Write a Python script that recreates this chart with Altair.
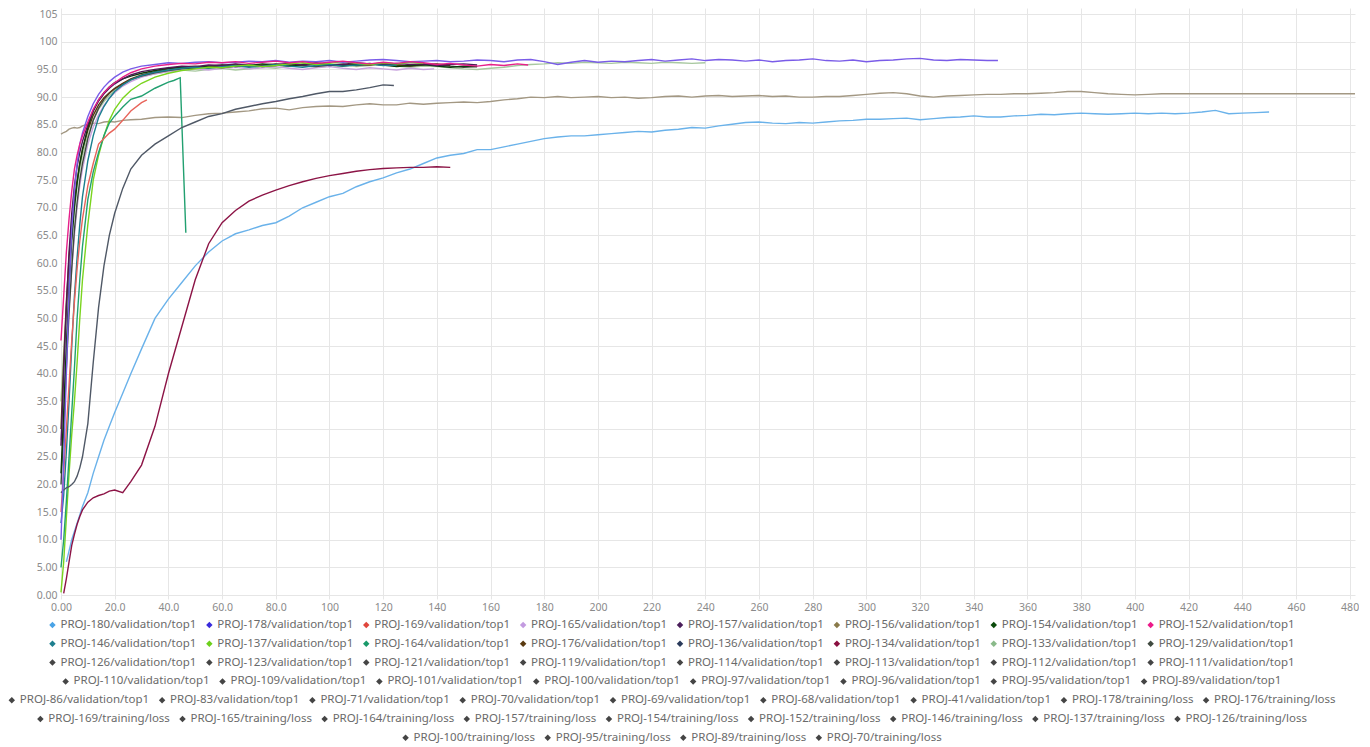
import altair as alt
import pandas as pd

# ---------------- data ----------------
# shared sampling grid of training steps (x)
GRID_EARLY = [0, 1, 2, 3, 4, 5, 6, 7, 8, 10, 12, 14, 16, 18, 20, 23, 26, 30]
GRID = GRID_EARLY + list(range(35, 485, 5))

P180 = [None, None, 6, 8, 10, 11.5, 13, 14.5, 16, 18.5, 22, 25, 28, 30.5, 33, 36.5, 40, 44.5,
        50, 53.5, 56.5, 59.5, 62, 64, 65.3, 66, 66.8, 67.3,
        68.5, 70, 71, 72, 72.6, 73.8, 74.7, 75.4, 76.3, 77,
        78, 79, 79.5, 79.8, 80.5, 80.5, 81, 81.5, 82, 82.5,
        82.8, 83, 83, 83.2, 83.4, 83.6, 83.8, 83.7, 84, 84.2,
        84.5, 84.4, 84.8, 85.1, 85.4, 85.5, 85.3, 85.2, 85.4, 85.3,
        85.5, 85.7, 85.8, 86, 86, 86.1, 86.2, 85.9, 86.1, 86.3,
        86.4, 86.6, 86.4, 86.4, 86.6, 86.7, 86.9, 86.8, 87, 87.1,
        87.0, 86.9, 87.0, 87.1, 87.0, 87.1, 87.0, 87.1, 87.3, 87.6,
        87.0, 87.1, 87.2, 87.3]
P178 = [10, 24, 40, 55, 66, 73, 78, 81.5, 83.5, 86.5, 88.8, 90.5, 91.8, 92.8, 93.6, 94.5, 95.1, 95.6,
        95.9, 96.2, 96.1, 96.3, 96.4, 96.2, 96.3, 96.5, 96.4, 96.6,
        96.3, 96.5, 96.4, 96.6, 96.3, 96.5, 96.7, 96.8, 96.6, 96.4,
        96.5, 96.6, 96.4, 96.5, 96.7, 96.6, 96.4, 96.7, 96.8, 96.4,
        95.9, 96.3, 96.6, 96.3, 96.5, 96.4, 96.6, 96.8, 96.5, 96.7,
        96.9, 96.6, 96.8, 96.7, 96.5, 96.7, 96.4, 96.6, 96.7, 96.9,
        96.6, 96.5, 96.7, 96.4, 96.6, 96.7, 96.9, 97.0, 96.7, 96.6,
        96.8, 96.7, 96.6]
P169 = [15, 22, 30, 38, 46, 53, 59, 64, 68, 74, 78, 81.5, 82.5, 83.5, 84.2, 85.8, 87.5, 89.0]
P165 = [28, 36, 44, 52, 59, 65, 70, 74, 77, 81.5, 84.6, 86.8, 88.5, 89.8, 90.8, 92.0, 92.8, 93.6,
        94.2, 94.6, 94.9, 95.1, 94.9, 95.2, 95.4, 95.1, 95.3, 95.5,
        95.2, 95.0, 95.3, 95.5, 95.2, 95.0, 95.3, 95.1, 94.9, 95.2, 95.0]
P157 = [27, 40, 52, 62, 69, 74, 77.5, 80, 82, 85, 87.5, 89.3, 90.6, 91.6, 92.4, 93.3, 94.0, 94.6,
        95.0, 95.3, 95.6, 95.5, 95.8, 95.7, 96.0, 95.8, 95.6, 95.9,
        96.1, 95.8, 96.0, 95.7, 95.9, 96.2, 96.0, 95.8, 96.1, 95.9,
        96.0, 95.7, 95.9, 96.0, 95.8]
P156 = [83.3, 83.6, 83.8, 84.2, 84.4, 84.5, 84.4, 84.5, 84.8, 85.1, 85.3, 85.2, 85.5, 85.6, 85.5, 85.8, 85.9, 86.0,
        86.3, 86.4, 86.3, 86.7, 87.0, 87.1, 87.3, 87.5, 87.9, 88.0,
        87.7, 88.1, 88.3, 88.4, 88.3, 88.6, 88.8, 88.6, 88.6, 88.9,
        88.7, 88.9, 89.0, 89.1, 89.0, 89.2, 89.5, 89.7, 90.0, 89.9,
        90.1, 89.9, 90.0, 90.1, 89.9, 90.0, 89.8, 89.9, 90.1, 90.2,
        90.0, 90.2, 90.3, 90.1, 90.2, 90.3, 90.1, 90.2, 90.0, 90.0,
        90.1, 90.1, 90.3, 90.5, 90.7, 90.8, 90.6, 90.2, 90.0, 90.2,
        90.3, 90.4, 90.5, 90.5, 90.6, 90.6, 90.7, 90.8, 91.0, 91.0,
        90.8, 90.6, 90.5, 90.4, 90.5, 90.6, 90.6, 90.6, 90.6, 90.6,
        90.6, 90.6, 90.6, 90.6, 90.6, 90.6, 90.6, 90.6, 90.6, 90.6]
P154 = [22, 33, 45, 56, 64, 70, 74.5, 78, 80.5, 84.5, 87.5, 89.5, 90.8, 91.8, 92.6, 93.3, 93.8, 94.3,
        94.8, 95.2, 95.4, 95.3, 95.6, 95.8, 95.5, 95.7, 96.0, 95.8,
        95.6, 95.9, 96.1, 95.8, 95.6, 95.9, 96.1, 95.8, 95.5, 95.7,
        95.9, 95.6, 95.4, 95.6, 95.5]
P152 = [46, 54, 62, 68, 73, 77, 79.5, 81.5, 83, 85.5, 87.8, 89.5, 90.8, 91.8, 92.6, 93.6, 94.4, 95.1,
        95.6, 95.9, 96.1, 96.0, 96.3, 96.2, 96.4, 96.1, 96.3, 96.5,
        96.2, 96.4, 96.1, 96.3, 96.5, 96.2, 96.0, 96.3, 96.1, 96.4,
        96.2, 95.9, 96.1, 95.8, 95.6, 95.9, 95.7, 96.0]
P146 = [13, 18, 26, 35, 45, 54, 61, 67, 72, 78.5, 83, 86.3, 88.3, 89.8, 91.0, 92.2, 93.1, 93.9,
        94.5, 94.9, 95.2, 95.4, 95.2, 95.5, 95.7, 95.4, 95.6, 95.9,
        95.6, 95.4, 95.7, 95.9, 95.6, 95.8, 96.0, 95.7, 95.8]
P137 = [0.5, 6, 14, 22, 29, 35, 42, 50, 57, 67, 75, 79.5, 83, 85.8, 87.8, 89.8, 91.2, 92.5,
        93.6, 94.3, 94.8, 95.1, 95.4, 95.3, 95.6, 95.8, 95.5, 95.7,
        96.0, 96.2, 95.9, 96.1, 96.4, 96.1, 95.9, 96.2, 96.0, 96.3, 96.1]
P164 = [5, 10, 17, 25, 33, 41, 50, 57, 63, 71.5, 76.5, 80, 83, 85.3, 86.6, 88.2, 89.6, 90.2,
        91.6, 92.7]
P176 = [30, 42, 53, 61, 67, 71.5, 75, 78, 80.5, 84, 86.7, 88.6, 89.9, 90.8, 91.6, 92.5, 93.3, 94.0,
        94.6, 95.1, 95.4, 95.6, 95.3, 95.7, 95.9, 95.6, 95.8, 96.0,
        95.7, 95.9, 96.2, 95.9, 95.7, 96.0, 95.8, 96.1, 95.8, 95.6,
        95.9, 96.0, 95.7]
P136 = [18.5, 19, 19.4, 19.6, 20, 20.5, 21.5, 23, 25, 31, 42, 52, 59.5, 65, 69, 73.5, 77, 79.5,
        81.5, 83, 84.5, 85.5, 86.5, 87, 87.8, 88.3, 88.8, 89.2,
        89.7, 90.1, 90.6, 91, 91, 91.3, 91.7, 92.2]
P134 = [None, 0.3, 3, 6, 9, 11, 12.8, 14.2, 15.4, 16.8, 17.6, 18, 18.3, 18.8, 19, 18.5, 20.5, 23.5,
        30.5, 40, 48.5, 57, 63.5, 67.3, 69.5, 71.2, 72.3, 73.2,
        74, 74.7, 75.3, 75.8, 76.2, 76.6, 76.9, 77.1, 77.2, 77.3,
        77.3, 77.4, 77.3]
P133 = [35, 44, 52, 59, 65, 70, 74, 77, 79.5, 83, 85.8, 87.8, 89.2, 90.3, 91.2, 92.2, 93.0, 93.7,
        94.2, 94.6, 94.9, 94.7, 95.0, 95.2, 94.9, 95.1, 95.4, 95.2,
        95.5, 95.7, 95.4, 95.6, 95.8, 95.5, 95.7, 95.9, 95.6, 95.4,
        95.6, 95.5, 95.3, 95.1, 95.0, 95.2, 95.4, 95.7, 95.9, 96.0,
        96.2, 96.1, 96.3, 96.2, 96.1, 96.3, 96.2, 96.1, 96.3, 96.2,
        96.1, 96.2]
P129 = [20, 30, 41, 51, 59, 66, 71, 75, 78, 82.5, 85.8, 88, 89.6, 90.7, 91.5, 92.4, 93.2, 93.8,
        94.4, 94.8, 95.1, 95.3, 95.5, 95.3, 95.6, 95.8, 95.5, 95.7,
        96.0, 95.7, 95.5, 95.8, 96.0, 95.7, 95.9, 96.1, 95.8, 95.6,
        95.8, 95.9, 95.6, 95.4, 95.5]

# final points that fall between grid steps: (step, value)
END_POINTS = {
    "PROJ-178": [(349, 96.6)],
    "PROJ-169": [(32, 89.5)],
    "PROJ-165": [(139, 95.1)],
    "PROJ-156": [(482, 90.6)],
    "PROJ-152": [(174, 95.8)],
    "PROJ-164": [(42, 93.0), (44.4, 93.5), (46.5, 65.5)],
    "PROJ-136": [(124, 92.1)],
}

SERIES = [
    ("PROJ-156", "#a39883", P156),
    ("PROJ-133", "#a8c8a0", P133),
    ("PROJ-165", "#c8a2de", P165),
    ("PROJ-129", "#3f4a3f", P129),
    ("PROJ-176", "#5c3a12", P176),
    ("PROJ-154", "#0b3d0b", P154),
    ("PROJ-157", "#4b1a55", P157),
    ("PROJ-146", "#1a7f8e", P146),
    ("PROJ-137", "#7ad41e", P137),
    ("PROJ-164", "#22a070", P164),
    ("PROJ-169", "#e8645a", P169),
    ("PROJ-136", "#4f5866", P136),
    ("PROJ-180", "#6ab2ea", P180),
    ("PROJ-134", "#8c1446", P134),
    ("PROJ-178", "#7a5ce8", P178),
    ("PROJ-152", "#e6208a", P152),
]

X_TICKS = list(range(0, 481, 20))
Y_TICKS = list(range(0, 106, 5))

LEGEND_ROWS = [
    ["PROJ-180/validation/top1", "PROJ-178/validation/top1", "PROJ-169/validation/top1", "PROJ-165/validation/top1",
     "PROJ-157/validation/top1", "PROJ-156/validation/top1", "PROJ-154/validation/top1", "PROJ-152/validation/top1"],
    ["PROJ-146/validation/top1", "PROJ-137/validation/top1", "PROJ-164/validation/top1", "PROJ-176/validation/top1",
     "PROJ-136/validation/top1", "PROJ-134/validation/top1", "PROJ-133/validation/top1", "PROJ-129/validation/top1"],
    ["PROJ-126/validation/top1", "PROJ-123/validation/top1", "PROJ-121/validation/top1", "PROJ-119/validation/top1",
     "PROJ-114/validation/top1", "PROJ-113/validation/top1", "PROJ-112/validation/top1", "PROJ-111/validation/top1"],
    ["PROJ-110/validation/top1", "PROJ-109/validation/top1", "PROJ-101/validation/top1", "PROJ-100/validation/top1",
     "PROJ-97/validation/top1", "PROJ-96/validation/top1", "PROJ-95/validation/top1", "PROJ-89/validation/top1"],
    ["PROJ-86/validation/top1", "PROJ-83/validation/top1", "PROJ-71/validation/top1", "PROJ-70/validation/top1",
     "PROJ-69/validation/top1", "PROJ-68/validation/top1", "PROJ-41/validation/top1", "PROJ-178/training/loss",
     "PROJ-176/training/loss"],
    ["PROJ-169/training/loss", "PROJ-165/training/loss", "PROJ-164/training/loss", "PROJ-157/training/loss",
     "PROJ-154/training/loss", "PROJ-152/training/loss", "PROJ-146/training/loss", "PROJ-137/training/loss",
     "PROJ-126/training/loss"],
    ["PROJ-100/training/loss", "PROJ-95/training/loss", "PROJ-89/training/loss", "PROJ-70/training/loss"],
]
LEGEND_COLORS = {
    "PROJ-180/validation/top1": "#4aa3e6", "PROJ-178/validation/top1": "#3a2bdc",
    "PROJ-169/validation/top1": "#e0463c", "PROJ-165/validation/top1": "#c39be0",
    "PROJ-157/validation/top1": "#4a1d5a", "PROJ-156/validation/top1": "#8a7a4a",
    "PROJ-154/validation/top1": "#0a4a0a", "PROJ-152/validation/top1": "#ec1a8a",
    "PROJ-146/validation/top1": "#1e7f8f", "PROJ-137/validation/top1": "#6cd01a",
    "PROJ-164/validation/top1": "#1a9a6a", "PROJ-176/validation/top1": "#5a3a10",
    "PROJ-136/validation/top1": "#2a3a5a", "PROJ-134/validation/top1": "#8a1040",
    "PROJ-133/validation/top1": "#8aba8a", "PROJ-129/validation/top1": "#404a40",
}

# ---------------- build tables ----------------
rows = []
for name, color, vals in SERIES:
    for x, v in zip(GRID, vals):
        if v is not None:
            rows.append({"series": name, "color": color, "step": x, "value": v})
    for x, v in END_POINTS.get(name, []):
        rows.append({"series": name, "color": color, "step": x, "value": v})
df = pd.DataFrame(rows)

# legend layout (flow rows, centred), in plot-area pixels
CW = {"P": .608, "R": .630, "O": .779, "J": .266, "-": .322, "/": .367, "v": .495, "a": .556,
      "l": .253, "i": .253, "d": .613, "t": .344, "o": .604, "n": .614, "p": .613, "r": .408,
      "s": .472, "g": .549}
FS = 11.5
def text_w(s):
    return sum(CW.get(c, .572) for c in s) * FS

PLOT_W, PLOT_H = 1294, 591
CENTER = 610
SYM_GAP, ITEM_GAP = 12, 10
ROW_Y0, ROW_DY = 617, 18.8

leg = []
for r, labels in enumerate(LEGEND_ROWS):
    widths = [SYM_GAP + text_w(s) for s in labels]
    total = sum(widths) + ITEM_GAP * (len(labels) - 1)
    x = CENTER - total / 2
    for s, w in zip(labels, widths):
        leg.append({"sx": x + 4, "tx": x + SYM_GAP, "ly": ROW_Y0 + r * ROW_DY,
                    "label": s, "color": LEGEND_COLORS.get(s, "#454545")})
        x += w + ITEM_GAP
leg_df = pd.DataFrame(leg)

LABEL_EXPR = ("datum.value >= 100 ? format(datum.value, 'd') : "
              "(datum.value >= 10 ? format(datum.value, '.1f') : format(datum.value, '.2f'))")

axis_common = dict(grid=True, gridColor="#e6e6e6", gridWidth=1, ticks=False,
                   labelColor="#8a8a8a", labelFont="Noto Sans", labelFontSize=10.5,
                   labelExpr=LABEL_EXPR, title=None, domain=False, labelFlush=False)

lines = alt.Chart(df).mark_line(strokeWidth=1.4).encode(
    x=alt.X("step:Q", scale=alt.Scale(domain=[0, 482], nice=False, zero=False),
            axis=alt.Axis(values=X_TICKS, labelPadding=3, **axis_common)),
    y=alt.Y("value:Q", scale=alt.Scale(domain=[-0.7, 106.1], nice=False, zero=False),
            axis=alt.Axis(values=Y_TICKS, labelPadding=4, **axis_common)),
    color=alt.Color("color:N", scale=None),
    detail="series:N",
    order="step:Q",
)

lx = alt.Scale(domain=[0, PLOT_W], nice=False, zero=False)
ly = alt.Scale(domain=[0, PLOT_H], nice=False, zero=False, reverse=True)

leg_sym = alt.Chart(leg_df).mark_point(shape="diamond", filled=True, size=42, opacity=1).encode(
    x=alt.X("sx:Q", scale=lx, axis=None),
    y=alt.Y("ly:Q", scale=ly, axis=None),
    color=alt.Color("color:N", scale=None),
)
leg_txt = alt.Chart(leg_df).mark_text(align="left", baseline="middle", fontSize=FS,
                                      font="Noto Sans", color="#6a6a6a").encode(
    x=alt.X("tx:Q", scale=lx, axis=None),
    y=alt.Y("ly:Q", scale=ly, axis=None),
    text="label:N",
)

chart = alt.layer(lines, leg_sym, leg_txt).resolve_scale(
    x="independent", y="independent"
).properties(
    width=PLOT_W, height=PLOT_H, padding=0, background="white"
).configure_view(stroke=None)

chart.save("out.html", embed_options={"renderer": "svg", "actions": False})
